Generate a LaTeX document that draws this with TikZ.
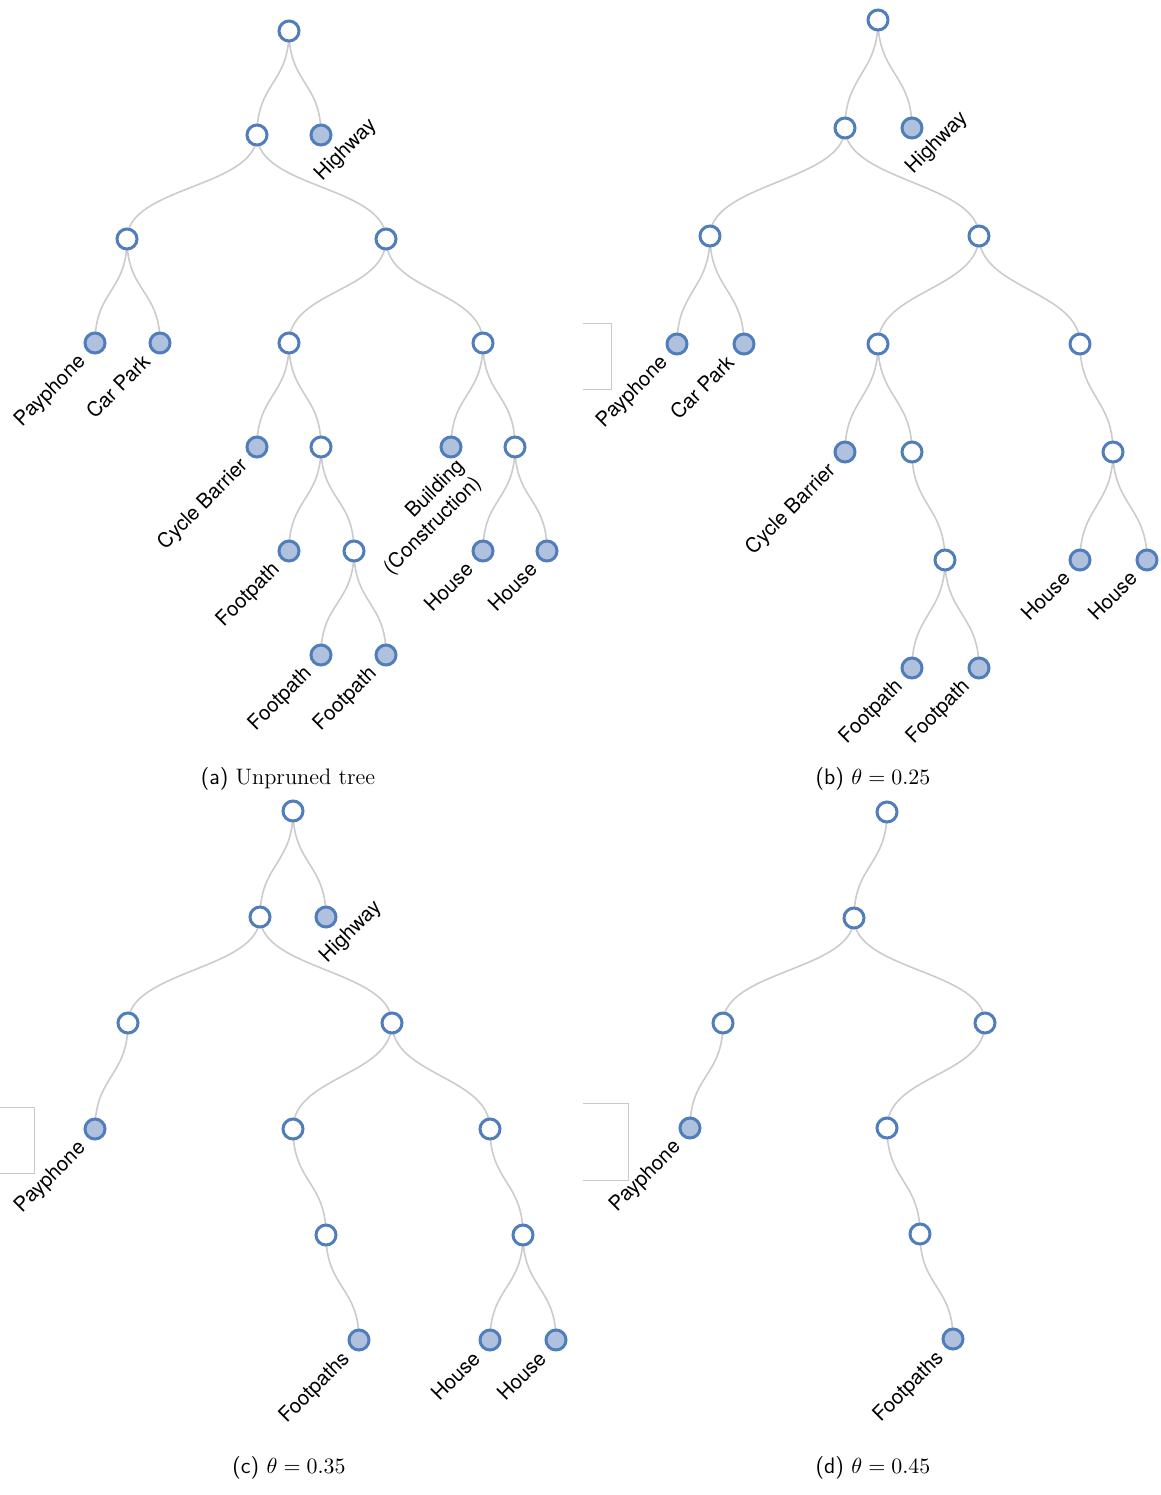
\documentclass[tikz,border=0pt]{standalone}
\usepackage{fontspec}
\newfontfamily\lblfont{TeX Gyre Heros}
\usetikzlibrary{backgrounds}
\definecolor{steel}{RGB}{80,125,188}
\definecolor{lsteel}{RGB}{176,193,222}
\definecolor{linkgray}{RGB}{204,204,204}
\definecolor{framegray}{RGB}{200,200,200}
\begin{document}
\begin{tikzpicture}[x=0.5pt,y=-0.5pt,
  inner/.style={circle,draw=steel,fill=white,line width=1.5pt,minimum size=10pt,inner sep=0pt},
  leaf/.style={inner,fill=lsteel},
  link/.style={draw=linkgray,line width=0.8pt},
  tag/.style={font=\lblfont\fontsize{10.2}{12}\selectfont,rotate=45,inner sep=0pt},
  leaflbl/.style={tag,anchor=east,text height=7.3pt,text depth=2.1pt},
  captxt/.style={font=\fontsize{11.2}{13.5}\selectfont,inner sep=0pt,anchor=base},
  boxline/.style={draw=framegray,line width=0.5pt}]
\path[use as bounding box] (0,0) rectangle (1161,1495);
% (a) unpruned tree
\node[inner] (a0) at (289,31) {};
\node[inner] (a1) at (257,135) {};
\node[leaf] (aHw) at (321,135) {};
\node[inner] (a2) at (127,239) {};
\node[inner] (a3) at (386,239) {};
\node[leaf] (aPay) at (95,343) {};
\node[leaf] (aCar) at (160,343) {};
\node[inner] (a4) at (289,343) {};
\node[inner] (a5) at (483,343) {};
\node[leaf] (aCyc) at (257,447) {};
\node[inner] (a6) at (321,447) {};
\node[leaf] (aBld) at (451,447) {};
\node[inner] (a7) at (515,447) {};
\node[leaf] (aFp1) at (289,551) {};
\node[inner] (a8) at (354,551) {};
\node[leaf] (aHo1) at (483,551) {};
\node[leaf] (aHo2) at (547,551) {};
\node[leaf] (aFp2) at (321,655) {};
\node[leaf] (aFp3) at (386,655) {};
% (b)
\node[inner] (b0) at (878,20) {};
\node[inner] (b1) at (845,128) {};
\node[leaf] (bHw) at (912,128) {};
\node[inner] (b2) at (710,236) {};
\node[inner] (b3) at (979,236) {};
\node[leaf] (bPay) at (677,344) {};
\node[leaf] (bCar) at (744,344) {};
\node[inner] (b4) at (878,344) {};
\node[inner] (b5) at (1080,344) {};
\node[leaf] (bCyc) at (845,452) {};
\node[inner] (b6) at (912,452) {};
\node[inner] (b7) at (1113,452) {};
\node[inner] (b8) at (945,560) {};
\node[leaf] (bHo1) at (1080,560) {};
\node[leaf] (bHo2) at (1147,560) {};
\node[leaf] (bFp1) at (912,668) {};
\node[leaf] (bFp2) at (979,668) {};
% (c)
\node[inner] (c0) at (293,811) {};
\node[inner] (c1) at (260,917) {};
\node[leaf] (cHw) at (326,917) {};
\node[inner] (c2) at (128,1023) {};
\node[inner] (c3) at (392,1023) {};
\node[leaf] (cPay) at (95,1129) {};
\node[inner] (c4) at (293,1129) {};
\node[inner] (c5) at (490,1129) {};
\node[inner] (c6) at (326,1235) {};
\node[inner] (c7) at (523,1235) {};
\node[leaf] (cFp) at (359,1340) {};
\node[leaf] (cHo1) at (490,1340) {};
\node[leaf] (cHo2) at (556,1340) {};
% (d)
\node[inner] (d0) at (887,812) {};
\node[inner] (d1) at (854,918) {};
\node[inner] (d2) at (723,1023) {};
\node[inner] (d3) at (985,1023) {};
\node[leaf] (dPay) at (690,1128) {};
\node[inner] (d4) at (887,1128) {};
\node[inner] (d5) at (920,1234) {};
\node[leaf] (dFp) at (953,1339) {};
\begin{scope}[on background layer]
\fill[white] (0,0) rectangle (1161,1495);
\foreach \p/\c in {a0/a1,a0/aHw,a1/a2,a1/a3,a2/aPay,a2/aCar,a3/a4,a3/a5,a4/aCyc,a4/a6,
  a5/aBld,a5/a7,a6/aFp1,a6/a8,a7/aHo1,a7/aHo2,a8/aFp2,a8/aFp3,
  b0/b1,b0/bHw,b1/b2,b1/b3,b2/bPay,b2/bCar,b3/b4,b3/b5,b4/bCyc,b4/b6,b5/b7,b6/b8,
  b7/bHo1,b7/bHo2,b8/bFp1,b8/bFp2,
  c0/c1,c0/cHw,c1/c2,c1/c3,c2/cPay,c3/c4,c3/c5,c4/c6,c5/c7,c6/cFp,c7/cHo1,c7/cHo2,
  d0/d1,d1/d2,d1/d3,d2/dPay,d3/d4,d4/d5,d5/dFp}
  \draw[link] (\p.center) .. controls +(0,53) and +(0,-53) .. (\c.center);
\end{scope}
\foreach \n/\t in {aPay/Payphone,aCar/Car Park,aCyc/Cycle Barrier,aFp1/Footpath,
  aFp2/Footpath,aFp3/Footpath,aHo1/House,aHo2/House,
  bPay/Payphone,bCar/Car Park,bCyc/Cycle Barrier,bFp1/Footpath,bFp2/Footpath,
  bHo1/House,bHo2/House,cPay/Payphone,cFp/Footpaths,cHo1/House,cHo2/House,
  dPay/Payphone,dFp/Footpaths}
  \path (\n) +(-12,16) node[leaflbl] (t\n) {\t};
\foreach \n in {aHw,bHw,cHw}
  \path (\n) +(25,15) node[tag,text height=7.3pt,text depth=2.1pt] (t\n) {Highway};
\path (aBld) +(19,25) node[tag,anchor=east,align=right] (taBld) {Building\\(Construction)};
\node[captxt] (capA) at (288,784) {\textsf{(a)} Unpruned tree};
\node[captxt] (capB) at (873,784) {\textsf{(b)} $\theta=0.25$};
\node[captxt] (capC) at (289,1473) {\textsf{(c)} $\theta=0.35$};
\node[captxt] (capD) at (873,1473) {\textsf{(d)} $\theta=0.45$};
\draw[boxline] (583,323) -- (611,323) -- (611,389) -- (583,389);
\draw[boxline] (0,1107) -- (34,1107) -- (34,1173) -- (0,1173);
\draw[boxline] (583,1103) -- (628,1103) -- (628,1180) -- (583,1180);
\end{tikzpicture}
\end{document}
